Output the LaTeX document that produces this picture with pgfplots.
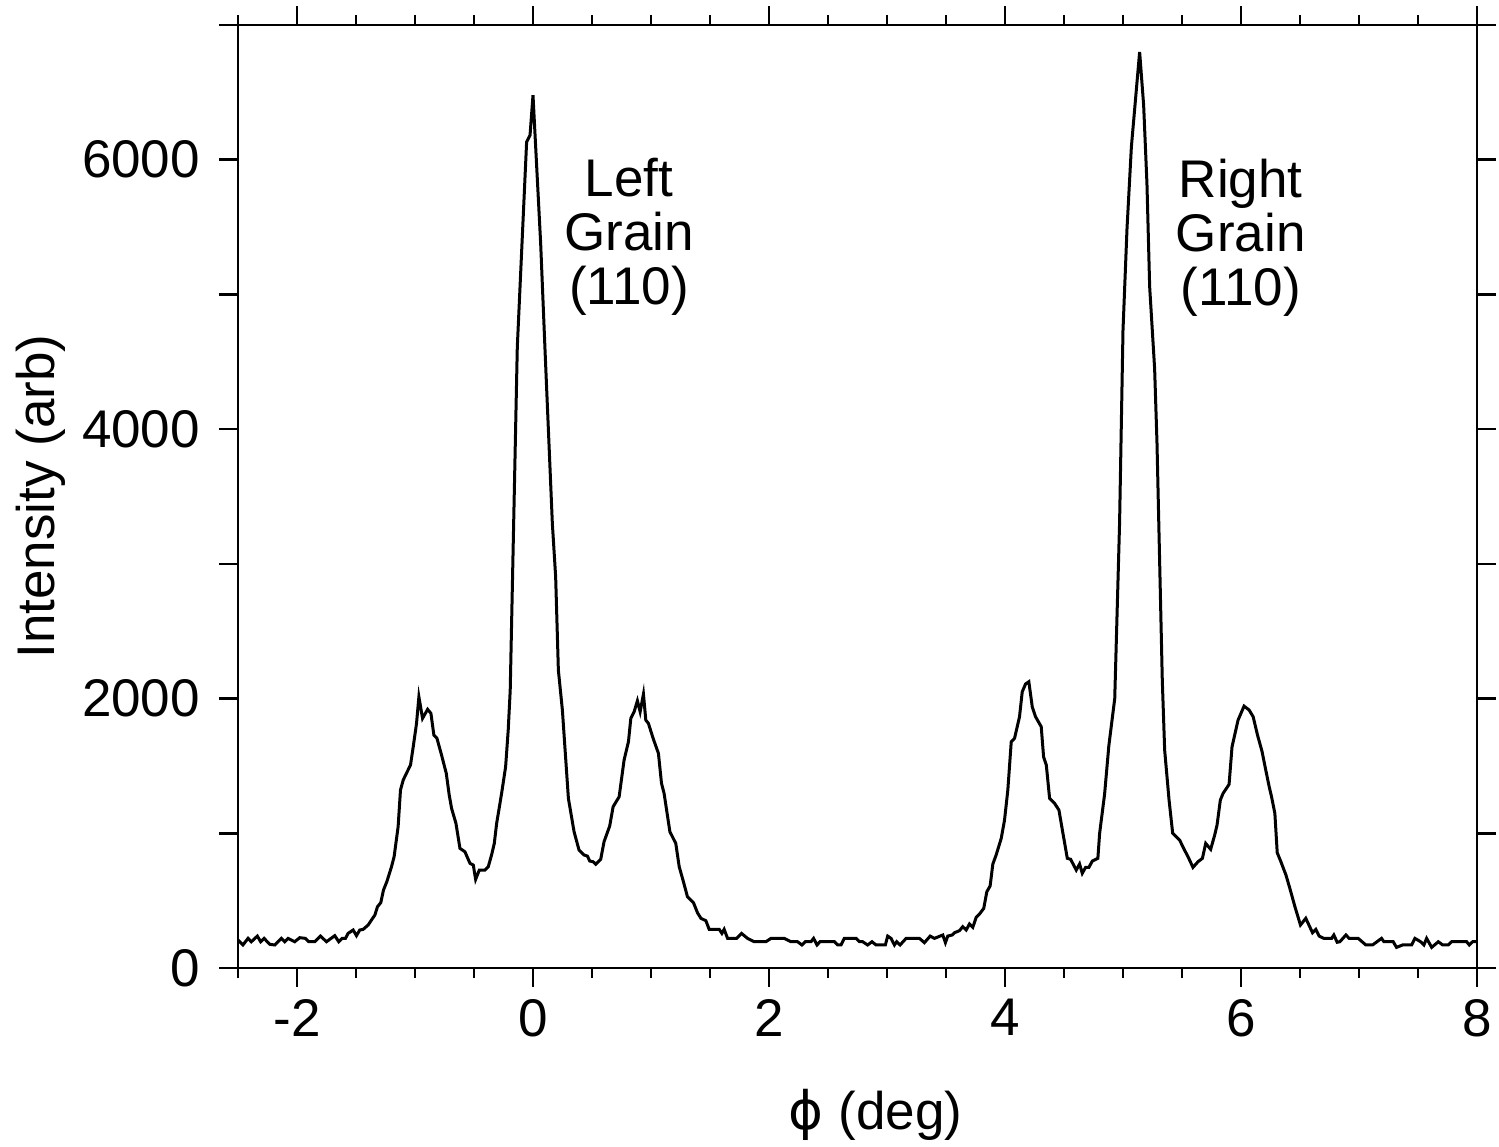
\documentclass[border=0pt]{standalone}
\usepackage{pgfplots}
\pgfplotsset{compat=1.18}
\usepackage{pgfplotstable}
\usepackage{fontspec}
\setmainfont{Liberation Sans}
\newfontfamily\greekfont{DejaVu Sans}

% phi scan, intensity vs angle
\pgfplotstableread{
phi I
-2.500 208
-2.458 171
-2.415 220
-2.387 195
-2.336 237
-2.308 195
-2.279 220
-2.231 176
-2.189 171
-2.132 220
-2.104 195
-2.076 220
-2.019 195
-1.977 225
-1.928 220
-1.900 195
-1.849 195
-1.801 237
-1.750 195
-1.680 240
-1.646 195
-1.618 220
-1.589 220
-1.567 257
-1.524 282
-1.496 240
-1.468 282
-1.439 287
-1.397 319
-1.369 356
-1.340 393
-1.318 455
-1.290 485
-1.267 579
-1.239 640
-1.199 752
-1.177 826
-1.143 1049
-1.123 1321
-1.100 1395
-1.066 1457
-1.038 1507
-1.015 1642
-0.987 1816
-0.967 2013
-0.936 1853
-0.893 1920
-0.865 1890
-0.840 1729
-0.814 1705
-0.775 1581
-0.735 1445
-0.710 1284
-0.690 1185
-0.653 1074
-0.619 888
-0.577 863
-0.534 777
-0.506 764
-0.486 658
-0.455 727
-0.407 727
-0.379 752
-0.351 839
-0.328 925
-0.308 1074
-0.266 1296
-0.232 1494
-0.210 1766
-0.193 2063
-0.133 4611
-0.054 6132
-0.025 6182
0.000 6479
0.065 5378
0.102 4586
0.164 3300
0.192 2904
0.215 2211
0.249 1915
0.300 1259
0.348 1012
0.390 876
0.433 839
0.461 831
0.481 794
0.509 789
0.532 770
0.574 807
0.602 937
0.650 1054
0.679 1197
0.730 1271
0.772 1544
0.809 1680
0.829 1853
0.857 1902
0.885 1984
0.908 1902
0.936 2033
0.956 1840
0.978 1816
1.018 1705
1.063 1593
1.089 1371
1.111 1296
1.160 1012
1.210 925
1.239 752
1.275 640
1.309 529
1.360 485
1.394 410
1.423 369
1.465 351
1.493 287
1.578 287
1.601 257
1.620 287
1.649 220
1.725 220
1.767 257
1.818 220
1.875 195
1.974 195
2.017 220
2.129 220
2.186 195
2.242 195
2.279 171
2.308 195
2.356 195
2.378 220
2.407 171
2.432 195
2.554 195
2.582 171
2.610 171
2.638 220
2.738 220
2.766 195
2.794 195
2.836 171
2.873 195
2.907 171
2.986 171
3.006 237
3.034 220
3.063 171
3.082 195
3.111 171
3.162 220
3.275 220
3.317 188
3.366 237
3.402 220
3.473 245
3.495 188
3.515 237
3.552 245
3.572 262
3.614 277
3.642 307
3.671 282
3.699 327
3.727 302
3.756 376
3.784 401
3.820 443
3.846 566
3.874 609
3.897 772
3.925 839
3.968 962
3.996 1098
4.024 1321
4.053 1680
4.081 1705
4.123 1865
4.146 2050
4.174 2108
4.202 2125
4.231 1939
4.259 1865
4.307 1791
4.327 1568
4.350 1507
4.378 1259
4.420 1222
4.457 1173
4.491 1000
4.528 814
4.556 807
4.604 727
4.632 772
4.655 703
4.683 747
4.711 747
4.740 794
4.787 814
4.802 1000
4.844 1290
4.880 1650
4.930 2000
4.971 3302
5.000 4734
5.034 5489
5.071 6095
5.141 6800
5.175 6404
5.203 5823
5.226 5056
5.268 4450
5.288 3900
5.311 3000
5.333 2137
5.353 1618
5.390 1250
5.421 1000
5.480 950
5.514 888
5.551 826
5.593 747
5.636 789
5.673 814
5.701 925
5.743 881
5.777 987
5.797 1061
5.825 1247
5.848 1296
5.899 1363
5.924 1642
5.975 1840
6.026 1944
6.069 1915
6.103 1865
6.140 1729
6.179 1605
6.210 1469
6.239 1345
6.259 1271
6.287 1148
6.307 856
6.338 789
6.381 690
6.414 591
6.457 455
6.504 319
6.549 369
6.606 262
6.634 287
6.662 237
6.702 220
6.768 220
6.787 245
6.815 191
6.838 195
6.889 245
6.917 220
6.993 220
7.058 171
7.115 171
7.191 220
7.211 195
7.290 195
7.318 153
7.369 171
7.446 171
7.474 220
7.522 195
7.550 171
7.573 220
7.616 153
7.672 195
7.709 171
7.757 171
7.785 195
7.912 195
7.935 171
7.963 195
8.000 195
}\scan

\begin{document}
\begin{tikzpicture}
\begin{axis}[
  scale only axis,
  width=619.5pt, height=471.5pt,
  xmin=-2.5, xmax=8, ymin=0, ymax=7000,
  axis line style={line width=1.3pt},
  every tick/.style={black, line width=1.3pt},
  tick align=outside,
  xtick pos=both, ytick pos=both,
  major tick length=9.5pt, minor tick length=5pt,
  xtick={-2,0,2,4,6,8},
  xticklabels={-2,0,2,4,6,8},
  minor xtick={-2.5,-1.5,-1,-0.5,0.5,1,1.5,2.5,3,3.5,4.5,5,5.5,6.5,7,7.5},
  ytick={0,1000,2000,3000,4000,5000,6000,7000},
  yticklabels={0,,2000,,4000,,6000,},
  tick label style={font=\fontsize{26.5}{28}\selectfont},
  xticklabel style={yshift=-2.5pt},
  yticklabel style={xshift=-6pt},
  label style={font=\fontsize{26.5}{28}\selectfont},
  xlabel={{\greekfont ϕ} (deg)},
  ylabel={Intensity (arb)},
  xlabel style={at={(axis description cs:0.5145,-0.1717)}, anchor=base},
  ylabel style={at={(axis description cs:-0.1485,0.5)}, anchor=base, rotate=0},
]
\addplot[black, line width=1.5pt] table[x=phi, y=I] {\scan};
\node[align=center, font=\fontsize{26.5}{27}\selectfont] at (axis cs:0.814,5430) {Left\\Grain\\(110)};
\node[align=center, font=\fontsize{26.5}{27}\selectfont] at (axis cs:5.998,5420) {Right\\Grain\\(110)};
\coordinate (bl) at (rel axis cs:0,0);
\coordinate (tr) at (rel axis cs:1,1);
\end{axis}
\pgfresetboundingbox
\path ([shift={(-119pt,-89pt)}]bl) rectangle ([shift={(11pt,12.5pt)}]tr);
\end{tikzpicture}
\end{document}
